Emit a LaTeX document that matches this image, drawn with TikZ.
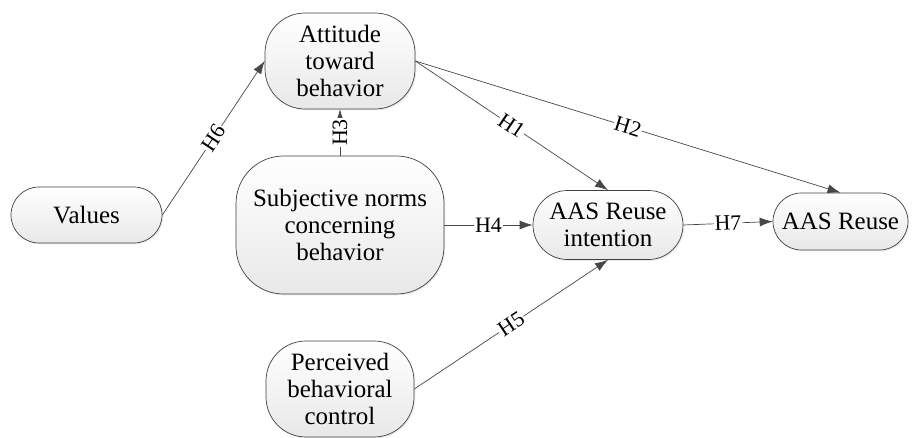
\documentclass[tikz,border=0pt]{standalone}
\usepackage{fontspec}
\setmainfont{Liberation Serif}
\usetikzlibrary{arrows.meta,shadows}

\begin{document}
\begin{tikzpicture}[
            box/.style={draw=black!75, align=center, inner sep=0,
                top color=white, bottom color=black!9,
                font=\fontsize{14.2}{15.5}\selectfont,
                drop shadow={opacity=0.15, shadow xshift=0.8pt, shadow yshift=-0.8pt}},
            hyp/.style={draw=black!72, -{Latex[length=2.6mm,width=1.8mm]}},
            lab/.style={fill=white, inner sep=0.6pt, sloped,
                font=\fontsize{12.5}{13}\selectfont},
            node distance=3.28cm]
        \useasboundingbox (0,0) rectangle (18.26,-8.74);

        \node (att) [box, minimum width=3cm, minimum height=1.92cm, rounded corners=0.8cm]
            at (6.8,-1.22) {Attitude\\toward\\behavior};
        \node (subj) [box, minimum width=4.16cm, minimum height=2.76cm, rounded corners=0.95cm,
            below of=att] {Subjective norms\\concerning\\behavior};
        \node (perc) [box, minimum width=2.96cm, minimum height=1.92cm, rounded corners=0.8cm,
            below of=subj] {Perceived\\behavioral\\control};
        \node (val) [box, minimum width=3.02cm, minimum height=1.12cm, rounded corners=0.56cm]
            at (1.73,-4.30) {Values};
        \node (intn) [box, minimum width=3cm, minimum height=1.38cm, rounded corners=0.69cm,
            right of=subj, node distance=5.36cm] {AAS Reuse\\intention};
        \node (reuse) [box, minimum width=2.7cm, minimum height=1.14cm, rounded corners=0.57cm]
            at (16.81,-4.43) {AAS Reuse};

        \draw [hyp] (val.east) -- node[lab] {H6} (att.west);
        \draw [hyp] (subj) -- node[lab] {H3} (att);
        \draw [hyp] (att.east) -- node[lab] {H1} (intn.north);
        \draw [hyp] (att.east) -- node[lab] {H2} (reuse.north);
        \draw [hyp] (subj) -- node[lab] {H4} (intn);
        \draw [hyp] (perc.east) -- node[lab] {H5} (intn.south);
        \draw [hyp] (intn.east) -- node[lab] {H7} (reuse.west);
    \end{tikzpicture}
\end{document}
